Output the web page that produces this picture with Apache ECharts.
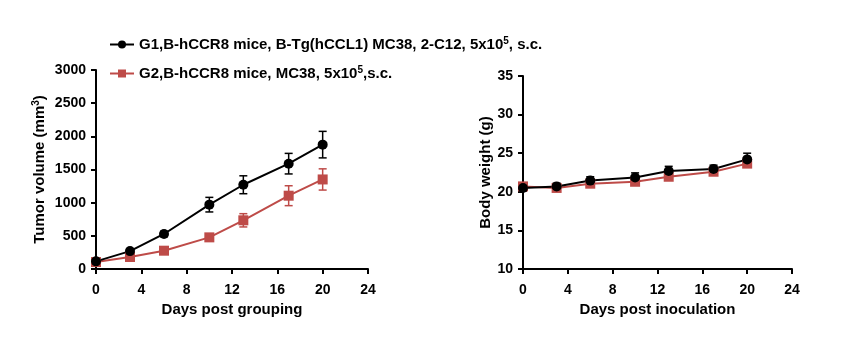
<!DOCTYPE html>
<html><head><meta charset="utf-8">
<script src="https://cdn.jsdelivr.net/npm/echarts@6/dist/echarts.min.js"></script>
<style>html,body{margin:0;padding:0;background:#fff}#c{width:857px;height:347px}</style>
</head><body><div id="c"></div>
<script>
const days = [0, 3, 6, 10, 13, 17, 20];
const xTicks = [0, 4, 8, 12, 16, 20, 24];
const tumorG1 = [115, 270, 528, 970, 1270, 1588, 1875];
const tumorG1Err = [30, 35, 40, 110, 135, 155, 200];
const tumorG2 = [105, 181, 276, 477, 734, 1105, 1350];
const tumorG2Err = [20, 25, 35, 40, 100, 150, 160];
const weightG1 = [20.5, 20.7, 21.45, 21.85, 22.7, 22.95, 24.2];
const weightG1Err = [0.4, 0.4, 0.5, 0.6, 0.6, 0.5, 0.8];
const weightG2 = [20.7, 20.5, 21.05, 21.3, 21.95, 22.6, 23.65];
const weightG2Err = [0.3, 0.3, 0.3, 0.3, 0.3, 0.3, 0.3];
const tumorTicks = [0, 500, 1000, 1500, 2000, 2500, 3000];
const weightTicks = [10, 15, 20, 25, 30, 35];
const g1Name = 'G1,B-hCCR8 mice, B-Tg(hCCL1) MC38, 2-C12, 5x10{sup|5}, s.c.';
const g2Name = 'G2,B-hCCR8 mice, MC38, 5x10{sup|5},s.c.';

const BLACK = '#000000';
const RED = '#BE4B48';
const FONT = 'Liberation Sans, Arial, sans-serif';

const chart = echarts.init(document.getElementById('c'));

function errSeries(xi, yi, vals, errs, color) {
  return {
    type: 'custom', xAxisIndex: xi, yAxisIndex: yi, z: 1, silent: true,
    data: days.map((d, i) => [d, vals[i] - errs[i], vals[i] + errs[i]]),
    renderItem: function (params, api) {
      const lo = api.coord([api.value(0), api.value(1)]);
      const hi = api.coord([api.value(0), api.value(2)]);
      const w = 4;
      const st = { stroke: color, lineWidth: 1.5 };
      return { type: 'group', children: [
        { type: 'line', shape: { x1: lo[0], y1: lo[1], x2: hi[0], y2: hi[1] }, style: st },
        { type: 'line', shape: { x1: lo[0] - w, y1: lo[1], x2: lo[0] + w, y2: lo[1] }, style: st },
        { type: 'line', shape: { x1: hi[0] - w, y1: hi[1], x2: hi[0] + w, y2: hi[1] }, style: st }
      ]};
    }
  };
}

function lineSeries(name, xi, yi, vals, color, symbol) {
  return {
    name: name, type: 'line', xAxisIndex: xi, yAxisIndex: yi, z: 3,
    data: days.map((d, i) => [d, vals[i]]),
    symbol: symbol, symbolSize: 10,
    lineStyle: { color: color, width: 2 },
    itemStyle: { color: color },
    emphasis: { disabled: true }
  };
}

const axisCommon = {
  axisLine: { show: true, lineStyle: { color: BLACK, width: 2 } },
  axisTick: { show: true, length: 5, lineStyle: { color: BLACK, width: 2 } },
  splitLine: { show: false },
  axisLabel: { color: BLACK, fontSize: 14, fontWeight: 'bold', fontFamily: FONT, margin: 10, formatter: v => String(v) },
  nameTextStyle: { color: BLACK, fontSize: 15, fontWeight: 'bold', fontFamily: FONT }
};

function xAxis(gi, name) {
  return Object.assign({}, axisCommon, {
    type: 'value', gridIndex: gi, min: xTicks[0], max: xTicks[xTicks.length - 1], interval: 4,
    name: name, nameLocation: 'middle', nameGap: 32,
    axisLabel: Object.assign({}, axisCommon.axisLabel, { margin: 14 })
  });
}

chart.setOption({
  animation: false,
  backgroundColor: '#fff',
  textStyle: { fontFamily: FONT },
  legend: {
    orient: 'vertical', left: 104, top: 31, itemGap: 12,
    itemWidth: 24, itemHeight: 10,
    data: [g1Name, g2Name],
    formatter: n => n,
    textStyle: {
      color: BLACK, fontSize: 15, fontWeight: 'bold', fontFamily: FONT, lineHeight: 17,
      rich: { sup: { fontSize: 10, fontWeight: 'bold', verticalAlign: 'top', padding: [0, 0, 8, 0], fontFamily: FONT } }
    }
  },
  grid: [
    { left: 96, top: 70, width: 272, height: 199 },
    { left: 523, top: 76, width: 269, height: 193 }
  ],
  xAxis: [xAxis(0, 'Days post grouping'), xAxis(1, 'Days post inoculation')],
  yAxis: [
    Object.assign({}, axisCommon, {
      type: 'value', gridIndex: 0, min: tumorTicks[0], max: tumorTicks[tumorTicks.length - 1], interval: 500,
      name: 'Tumor volume (mm{sup|3})', nameLocation: 'middle', nameGap: 47,
      nameTextStyle: Object.assign({}, axisCommon.nameTextStyle, {
        rich: { sup: { fontSize: 10, fontWeight: 'bold', padding: [0, 0, 8, 0], fontFamily: FONT } }
      })
    }),
    Object.assign({}, axisCommon, {
      type: 'value', gridIndex: 1, min: weightTicks[0], max: weightTicks[weightTicks.length - 1], interval: 5,
      name: 'Body weight (g)', nameLocation: 'middle', nameGap: 28
    })
  ],
  series: [
    errSeries(0, 0, tumorG2, tumorG2Err, RED),
    lineSeries(g2Name, 0, 0, tumorG2, RED, 'rect'),
    errSeries(0, 0, tumorG1, tumorG1Err, BLACK),
    lineSeries(g1Name, 0, 0, tumorG1, BLACK, 'circle'),
    errSeries(1, 1, weightG2, weightG2Err, RED),
    lineSeries(g2Name, 1, 1, weightG2, RED, 'rect'),
    errSeries(1, 1, weightG1, weightG1Err, BLACK),
    lineSeries(g1Name, 1, 1, weightG1, BLACK, 'circle')
  ]
});
</script></body></html>
